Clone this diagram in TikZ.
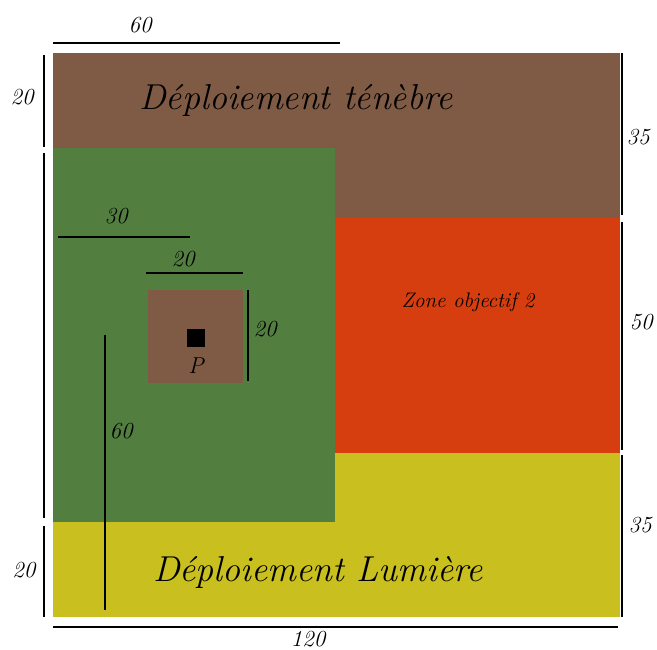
\documentclass[tikz,border=0pt]{standalone}
\usepackage{tikz}
\definecolor{terre}{RGB}{127,91,69}
\definecolor{foret}{RGB}{82,127,64}
\definecolor{braise}{RGB}{214,62,16}
\definecolor{soleil}{RGB}{201,192,31}
\tikzstyle{cote} = [line width=2pt, black]
\tikzstyle{coteLabel} = [font=\fontsize{23}{23}\selectfont\itshape, inner sep=0pt]
\tikzstyle{titre} = [font=\fontsize{36}{36}\selectfont\itshape, inner sep=0pt]

\begin{document}
\begin{tikzpicture}[x=1pt, y=-1pt]
  \useasboundingbox[fill=white] (0,0) rectangle (657,650);

  % zones of the board
  \fill[terre] (53,53) rectangle (620,218);
  \fill[soleil] (53,453) rectangle (620,617);
  \fill[braise] (335,218) rectangle (620,453);
  \fill[foret] (53,148) rectangle (335,522);
  \fill[terre] (148,290) rectangle (243,383);
  \fill[black] (187,329) rectangle (205,347);

  % texts
  \node[titre] (tenebre) at (296,100) {Déploiement ténèbre};
  \node[font=\fontsize{21}{21}\selectfont\itshape, inner sep=0pt] (objectif) at (468,302) {Zone objectif 2};
  \node[titre] (lumiere) at (318,572) {Déploiement Lumière};
  \node[coteLabel] (p) at (196,366) {P};

  % outer dimensions
  \draw[cote] (53,43) -- (340,43);
  \node[coteLabel] (c60h) at (140,25) {60};
  \draw[cote] (44,55) -- (44,147);
  \node[coteLabel] (c20a) at (22,97) {20};
  \draw[cote] (44,153) -- (44,518);
  \draw[cote] (44,526) -- (44,617);
  \node[coteLabel] (c20b) at (24,570) {20};
  \draw[cote] (622,53) -- (622,215);
  \node[coteLabel] (c35a) at (638,137) {35};
  \draw[cote] (622,222) -- (622,450);
  \node[coteLabel] (c50) at (641,322) {50};
  \draw[cote] (622,455) -- (622,617);
  \node[coteLabel] (c35b) at (640,525) {35};
  \draw[cote] (53,627) -- (618,627);
  \node[coteLabel] (c120) at (308,639) {120};

  % inner dimensions
  \draw[cote] (58,237) -- (190,237);
  \node[coteLabel] (c30) at (116,216) {30};
  \draw[cote] (146,273) -- (243,273);
  \node[coteLabel] (c20c) at (183,259) {20};
  \draw[cote] (248,290) -- (248,381);
  \node[coteLabel] (c20d) at (265,329) {20};
  \draw[cote] (105,335) -- (105,610);
  \node[coteLabel] (c60v) at (121,431) {60};
\end{tikzpicture}
\end{document}
